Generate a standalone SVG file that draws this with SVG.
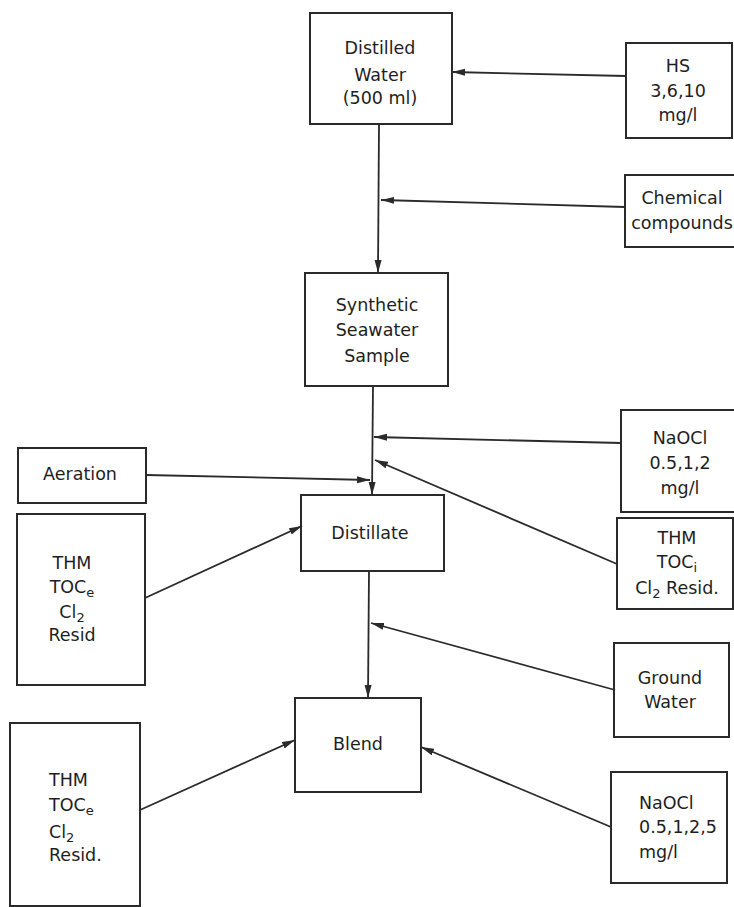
<svg xmlns="http://www.w3.org/2000/svg" width="734" height="907" viewBox="0 0 734 907">
<style>
rect{fill:none;stroke:#2a2a2a;stroke-width:2}
text{font-family:"DejaVu Sans","Liberation Sans",sans-serif;font-size:17.5px;fill:#1e1e1e;text-anchor:middle}
.l{text-anchor:start}
.s{font-size:13px}
#connectors line{stroke:#2a2a2a;stroke-width:1.8;marker-end:url(#ah)}
</style>
<defs>
<marker id="ah" markerUnits="userSpaceOnUse" markerWidth="14" markerHeight="8" refX="13" refY="3.5" orient="auto">
<path d="M0,0 L13,3.5 L0,7 z" fill="#2a2a2a"/>
</marker>
</defs>
<rect x="0" y="0" width="734" height="907" style="fill:#fff;stroke:none"/>
<g id="connectors">
<line x1="626" y1="76" x2="452" y2="72"/>
<line x1="379" y1="124" x2="378" y2="273"/>
<line x1="625" y1="207" x2="381" y2="200"/>
<line x1="373" y1="386" x2="372" y2="495"/>
<line x1="621" y1="443" x2="374" y2="437"/>
<line x1="617" y1="564" x2="375" y2="460"/>
<line x1="146" y1="475" x2="370" y2="480"/>
<line x1="145" y1="598" x2="302" y2="526"/>
<line x1="369" y1="571" x2="368" y2="698"/>
<line x1="615" y1="690" x2="371" y2="623"/>
<line x1="611" y1="827" x2="421" y2="747"/>
<line x1="140" y1="810" x2="295" y2="740"/>
</g>
<g id="distilled-water">
<rect x="310" y="13" width="142" height="111"/>
<text x="380" y="54">Distilled</text>
<text x="380" y="81">Water</text>
<text x="380" y="104">(500 ml)</text>
</g>
<g id="hs">
<rect x="626" y="43" width="106" height="95"/>
<text x="678" y="72">HS</text>
<text x="678" y="97">3,6,10</text>
<text x="678" y="121">mg/l</text>
</g>
<g id="chemical">
<rect x="625" y="175" width="112" height="72"/>
<text x="682" y="204">Chemical</text>
<text x="682" y="229">compounds</text>
</g>
<g id="synthetic">
<rect x="305" y="273" width="143" height="113"/>
<text x="377" y="311">Synthetic</text>
<text x="377" y="336">Seawater</text>
<text x="377" y="362">Sample</text>
</g>
<g id="naocl1">
<rect x="621" y="410" width="116" height="102"/>
<text x="680" y="444">NaOCl</text>
<text x="680" y="469">0.5,1,2</text>
<text x="680" y="494">mg/l</text>
</g>
<g id="thm-right">
<rect x="617" y="518" width="116" height="91"/>
<text x="677" y="544">THM</text>
<text x="677" y="568">TOC<tspan class="s" dy="4">i</tspan></text>
<text x="677" y="594">Cl<tspan class="s" dy="4">2</tspan><tspan dy="-4"> Resid.</tspan></text>
</g>
<g id="aeration">
<rect x="18" y="448" width="128" height="55"/>
<text x="80" y="480">Aeration</text>
</g>
<g id="distillate">
<rect x="301" y="495" width="143" height="76"/>
<text x="370" y="539">Distillate</text>
</g>
<g id="thm-left1">
<rect x="17" y="514" width="128" height="171"/>
<text x="72" y="569">THM</text>
<text x="72" y="593">TOC<tspan class="s" dy="4">e</tspan></text>
<text x="72" y="618">Cl<tspan class="s" dy="4">2</tspan></text>
<text x="72" y="641">Resid</text>
</g>
<g id="ground-water">
<rect x="614" y="643" width="115" height="94"/>
<text x="670" y="684">Ground</text>
<text x="670" y="708">Water</text>
</g>
<g id="blend">
<rect x="295" y="698" width="126" height="94"/>
<text x="358" y="750">Blend</text>
</g>
<g id="thm-left2">
<rect x="10" y="723" width="130" height="183"/>
<text class="l" x="49" y="786">THM</text>
<text class="l" x="49" y="811">TOC<tspan class="s" dy="4">e</tspan></text>
<text class="l" x="49" y="838">Cl<tspan class="s" dy="4">2</tspan></text>
<text class="l" x="49" y="861">Resid.</text>
</g>
<g id="naocl2">
<rect x="611" y="772" width="116" height="111"/>
<text class="l" x="639" y="809">NaOCl</text>
<text class="l" x="639" y="833">0.5,1,2,5</text>
<text class="l" x="639" y="858">mg/l</text>
</g>
</svg>
